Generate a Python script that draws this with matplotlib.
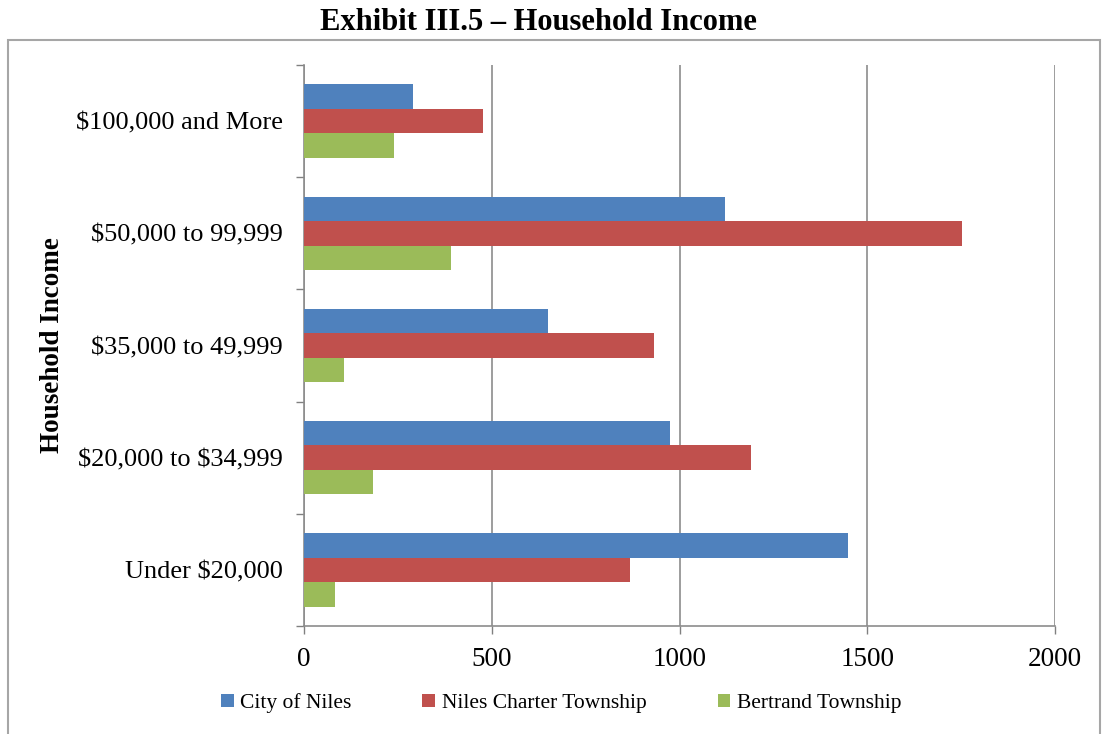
import matplotlib
matplotlib.use("Agg")
import matplotlib.pyplot as plt
import numpy as np
from matplotlib.patches import Rectangle

plt.rcParams["text.parse_math"] = False

categories = ["Under $20,000", "$20,000 to $34,999", "$35,000 to 49,999",
              "$50,000 to 99,999", "$100,000 and More"]
city_of_niles = [1449, 975, 651, 1121, 290]
niles_charter = [867, 1191, 931, 1753, 476]
bertrand = [82, 184, 107, 391, 239]
series_names = ["City of Niles", "Niles Charter Township", "Bertrand Township"]
colors = ["#4F81BD", "#C0504D", "#9BBB59"]
xticks = [0, 500, 1000, 1500, 2000]

serif = ["Liberation Serif", "DejaVu Serif"]

fig = plt.figure(figsize=(11.03, 7.34), dpi=100)
ax = fig.add_axes([304 / 1103, 1 - 626 / 734, (1055 - 304) / 1103, (626 - 65) / 734])

y = np.arange(len(categories))
h = 0.218
for vals, off, col, name in zip([city_of_niles, niles_charter, bertrand],
                                [h, 0, -h], colors, series_names):
    ax.barh(y + off, vals, height=h, color=col, label=name, zorder=3)

ax.set_xlim(0, 2000)
ax.set_ylim(-0.5, len(categories) - 0.5)
ax.set_xticks(xticks)
ax.set_xticklabels([str(v) for v in xticks], fontfamily=serif, fontsize=19.5)
ax.set_yticks(y)
ax.set_yticklabels(categories, fontfamily=serif, fontsize=19)
ax.set_yticks(np.arange(-0.5, len(categories)), minor=True)
ax.tick_params(axis="y", which="major", length=0, pad=15)
ax.tick_params(axis="y", which="minor", length=6, color="#808080", width=1)
ax.tick_params(axis="x", which="major", length=6, color="#808080", width=1, pad=9)

ax.grid(axis="x", color="#8c8c8c", linewidth=1.2, zorder=0)
for side in ["top", "right"]:
    ax.spines[side].set_visible(False)
for side in ["left", "bottom"]:
    ax.spines[side].set_color("#8c8c8c")
    ax.spines[side].set_linewidth(1.2)

ax.set_ylabel("Household Income", fontfamily=serif, fontsize=19.5,
              fontweight="bold")
ax.yaxis.set_label_coords(-0.318, 0.5)

fig.text(538 / 1103, 1 - 22 / 734, "Exhibit III.5 \u2013 Household Income",
         ha="center", va="center", fontfamily=serif, fontsize=22,
         fontweight="bold")

fig.patches.append(Rectangle((8 / 1103, -0.01), (1100 - 8) / 1103, 1 - 40 / 734 + 0.01,
                             transform=fig.transFigure, fill=False,
                             edgecolor="#a6a6a6", linewidth=1.5))

leg = fig.legend(loc="center", bbox_to_anchor=(561 / 1103, 1 - 703 / 734),
                 ncol=3, frameon=False, prop={"family": serif, "size": 15.5},
                 handlelength=0.6, handleheight=0.6, handletextpad=0.3,
                 columnspacing=3.3)

fig.savefig("out.png", dpi=100)
